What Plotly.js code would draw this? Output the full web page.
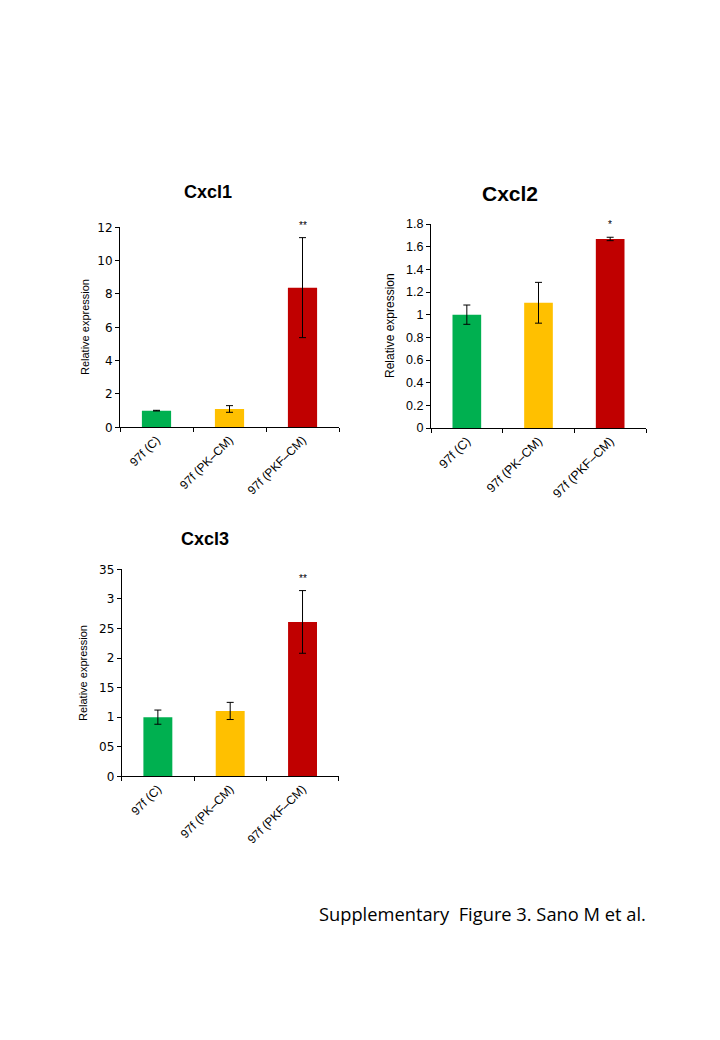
<!DOCTYPE html>
<html>
<head>
<meta charset="utf-8">
<script src="https://cdn.plot.ly/plotly-3.0.1.min.js"></script>
<style>
  html, body { margin: 0; padding: 0; background: #fff; }
  #chart { width: 720px; height: 1040px; }
</style>
</head>
<body>
<div id="chart"></div>
<script>
// data
const categories = ['97f (C)', '97f (PK–CM)', '97f (PKF–CM)'];
const barColors = ['#00B050', '#FFC000', '#C00000'];

const cxcl1 = [1.0, 1.1, 8.38];
const cxcl1Err = [0.02, 0.2, 3.0];
const cxcl1Sig = ['', '', '**'];

const cxcl2 = [1.0, 1.105, 1.668];
const cxcl2Err = [0.085, 0.18, 0.015];
const cxcl2Sig = ['', '', '*'];

const cxcl3 = [1.0, 1.105, 2.61];
const cxcl3Err = [0.12, 0.145, 0.53];
const cxcl3Sig = ['', '', '**'];

const cxcl3TickVals = [0, 0.5, 1, 1.5, 2, 2.5, 3, 3.5];
const cxcl3TickText = ['0', '05', '1', '15', '2', '25', '3', '35'];

const W = 720, H = 1040;
const FONT = 'Liberation Sans, Arial, sans-serif';
const TICKFONT = 'DejaVu Sans, sans-serif';

// pixel boxes of the three plot areas -> paper domains
function dom(x0, x1, y0, y1) {
    return { x: [x0 / W, x1 / W], y: [1 - y1 / H, 1 - y0 / H] };
}
const panels = [
    { name: 'Cxcl1', vals: cxcl1, err: cxcl1Err, sig: cxcl1Sig, box: dom(120, 339, 227.3, 427.3),
      range: [0, 12], dtick: 2, yfont: [TICKFONT, 12], xfont: 12, title: [208, 192, 18], ylab: [85, 327, 11] },
    { name: 'Cxcl2', vals: cxcl2, err: cxcl2Err, sig: cxcl2Sig, box: dom(431, 646, 224, 428),
      range: [0, 1.8], dtick: 0.2, yfont: [FONT, 12.5], xfont: 12.5, title: [510, 193, 21], ylab: [390, 326, 12] },
    { name: 'Cxcl3', vals: cxcl3, err: cxcl3Err, sig: cxcl3Sig, box: dom(121.7, 338.7, 569.3, 776.3),
      range: [0, 3.5], yfont: [TICKFONT, 12], xfont: 12, title: [205, 539, 18], ylab: [83, 673, 11],
      tickvals: cxcl3TickVals, ticktext: cxcl3TickText }
];

let traces = [];
let layout = {
    width: W, height: H,
    margin: { l: 0, r: 0, t: 0, b: 0 },
    paper_bgcolor: '#fff', plot_bgcolor: '#fff',
    showlegend: false,
    annotations: []
};

panels.forEach((p, i) => {
    const n = i === 0 ? '' : String(i + 1);
    traces.push({
        type: 'bar', x: categories, y: p.vals, width: 0.4,
        xaxis: 'x' + n, yaxis: 'y' + n,
        marker: { color: barColors, line: { width: 0 } },
        error_y: { type: 'data', array: p.err, visible: true, color: '#000', thickness: 1, width: 3.5 },
        hoverinfo: 'skip'
    });

    layout['xaxis' + n] = {
        domain: p.box.x, anchor: 'y' + n, range: [-0.5, 2.5],
        showline: true, linecolor: '#000', linewidth: 1,
        ticks: 'outside', tickson: 'boundaries', ticklen: 4, tickcolor: '#000',
        tickangle: -45, showgrid: false, zeroline: false, fixedrange: true,
        tickfont: { family: FONT, size: p.xfont, color: '#000' }
    };
    let ya = {
        domain: p.box.y, anchor: 'x' + n, range: p.range,
        showline: true, linecolor: '#000', linewidth: 1,
        ticks: 'outside', ticklen: 4, tickcolor: '#000',
        showgrid: false, zeroline: false, fixedrange: true,
        tickfont: { family: p.yfont[0], size: p.yfont[1], color: '#000' }
    };
    if (p.tickvals) { ya.tickmode = 'array'; ya.tickvals = p.tickvals; ya.ticktext = p.ticktext; }
    else { ya.dtick = p.dtick; ya.tick0 = 0; }
    layout['yaxis' + n] = ya;

    // panel title
    layout.annotations.push({
        text: '<b>' + p.name + '</b>', xref: 'paper', yref: 'paper',
        x: p.title[0] / W, y: 1 - p.title[1] / H, xanchor: 'center', yanchor: 'middle',
        showarrow: false, font: { family: FONT, size: p.title[2], color: '#000' }
    });
    // y axis label
    layout.annotations.push({
        text: 'Relative expression', xref: 'paper', yref: 'paper',
        x: p.ylab[0] / W, y: 1 - p.ylab[1] / H, xanchor: 'center', yanchor: 'middle',
        textangle: -90, showarrow: false, font: { family: FONT, size: p.ylab[2], color: '#000' }
    });
    // significance marks
    p.sig.forEach((s, k) => {
        if (!s) return;
        layout.annotations.push({
            text: s, xref: 'x' + n, yref: 'y' + n,
            x: categories[k], y: p.vals[k] + p.err[k], yanchor: 'bottom', yshift: 5,
            showarrow: false, font: { family: FONT, size: 10, color: '#000' }
        });
    });
});

layout.annotations.push({
    text: 'Supplementary  Figure 3. Sano M et al.', xref: 'paper', yref: 'paper',
    x: 317 / W, y: 1 - 913 / H, xanchor: 'left', yanchor: 'middle',
    showarrow: false, font: { family: 'Open Sans, sans-serif', size: 18.3, color: '#000' }
});

Plotly.newPlot('chart', traces, layout, { displayModeBar: false, staticPlot: true });
</script>
</body>
</html>
